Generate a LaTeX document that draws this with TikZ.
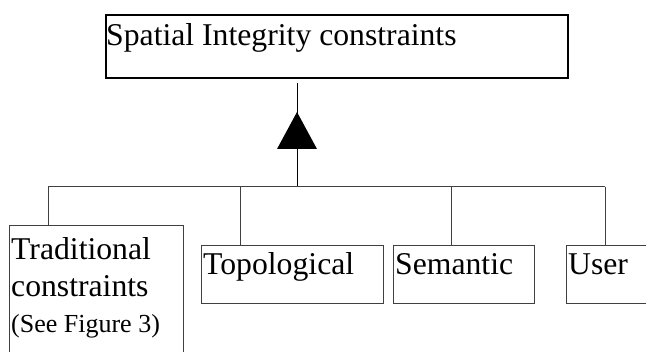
\documentclass[tikz,border=0pt]{standalone}
\usepackage{fontspec}
\setmainfont{Liberation Serif}
\begin{document}
\begin{tikzpicture}[x=1pt,y=-1pt,
  box/.style={draw=black!75, line width=1pt, inner sep=0pt, anchor=north west},
  lbl/.style={anchor=base west, inner sep=0pt, font=\fontsize{31.7}{36}\selectfont},
  note/.style={anchor=base west, inner sep=0pt, font=\fontsize{26}{30}\selectfont},
  link/.style={draw=black!75, line width=1pt}]
\useasboundingbox (0,0) rectangle (646,352);
\clip (0,0) rectangle (646,352);

% parent class
\node[box, draw=black, line width=2pt, minimum width=462.5pt, minimum height=63pt] (root) at (104.5,14) {};
\node[lbl] (rootlbl) at (106,46) {Spatial Integrity constraints};

% subclasses
\node[box, minimum width=174pt, minimum height=145pt] (trad) at (9,225) {};
\node[lbl] (tradA) at (11,260) {Traditional};
\node[lbl] (tradB) at (11,297) {constraints};
\node[note] (tradC) at (11,333) {(See Figure 3)};

\node[box, minimum width=182pt, minimum height=58pt] (topo) at (201,245) {};
\node[lbl] (topolbl) at (203,275) {Topological};

\node[box, minimum width=141pt, minimum height=58pt] (sem) at (393,245) {};
\node[lbl] (semlbl) at (395,275) {Semantic};

\node[box, minimum width=100pt, minimum height=58pt] (user) at (566,245) {};
\node[lbl] (userlbl) at (568,275) {User};

% generalization tree
\coordinate (hub) at (297,187);
\coordinate (j1) at (48,187);
\coordinate (j2) at (240,187);
\coordinate (j3) at (451,187);
\coordinate (j4) at (605,187);
\coordinate (tip) at (297,112);

\draw[black, line width=1pt] ([yshift=-4pt]root.south -| hub) -- (hub);
\fill (tip) -- ++(20,37) -- ++(-40,0) -- cycle;
\draw[link] (j1) -- (j4);
\draw[link] (j1) -- (j1 |- trad.north);
\draw[link] (j2) -- (j2 |- topo.north);
\draw[link] (j3) -- (j3 |- sem.north);
\draw[link] (j4) -- (j4 |- user.north);
\end{tikzpicture}
\end{document}
